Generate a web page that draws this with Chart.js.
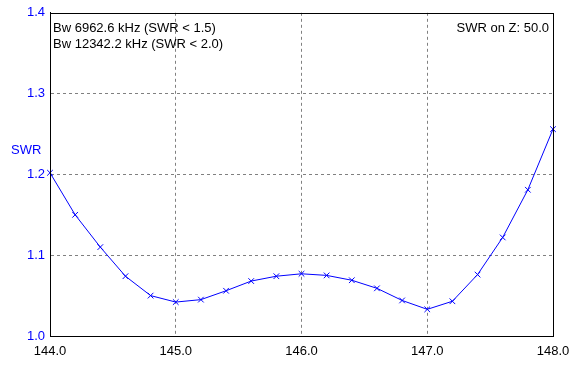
<!DOCTYPE html>
<html>
<head>
<meta charset="utf-8">
<script src="https://cdn.jsdelivr.net/npm/chart.js@4"></script>
<style>
html,body{margin:0;padding:0;background:#fff;}
#wrap{width:584px;height:365px;}
</style>
</head>
<body>
<div id="wrap"><canvas id="c" width="584" height="365"></canvas></div>
<script>
const freqs = [144.0,144.2,144.4,144.6,144.8,145.0,145.2,145.4,145.6,145.8,146.0,146.2,146.4,146.6,146.8,147.0,147.2,147.4,147.6,147.8,148.0];
const swr   = [1.202,1.150,1.110,1.074,1.050,1.042,1.045,1.056,1.068,1.074,1.077,1.075,1.069,1.059,1.044,1.033,1.043,1.076,1.122,1.181,1.256];
const xTicks = [144.0,145.0,146.0,147.0,148.0];
const yTicks = [1.0,1.1,1.2,1.3,1.4];
const infoLeft = ["Bw 6962.6 kHz (SWR < 1.5)", "Bw 12342.2 kHz (SWR < 2.0)"];
const infoRight = "SWR on Z: 50.0";
const yTitle = "SWR";

const FONT = "'Liberation Sans', Arial, sans-serif";

const textPlugin = {
  id: 'texts',
  afterDraw(chart) {
    const ctx = chart.ctx, a = chart.chartArea;
    ctx.save();
    ctx.strokeStyle = '#000';
    ctx.lineWidth = 1;
    ctx.setLineDash([]);
    ctx.strokeRect(Math.round(a.left)+0.5, Math.round(a.top)+0.5, Math.round(a.right-a.left), Math.round(a.bottom-a.top));
    ctx.font = '13px ' + FONT;
    ctx.fillStyle = '#000';
    ctx.textBaseline = 'middle';
    ctx.textAlign = 'left';
    ctx.fillText(infoLeft[0], a.left + 3, a.top + 16);
    ctx.fillText(infoLeft[1], a.left + 3, a.top + 32);
    ctx.textAlign = 'right';
    ctx.fillText(infoRight, a.right - 4, a.top + 16);
    ctx.fillStyle = '#0000ff';
    ctx.textAlign = 'left';
    ctx.fillText(yTitle, 11, 150);
    ctx.restore();
  }
};

new Chart(document.getElementById('c'), {
  type: 'scatter',
  data: {
    datasets: [{
      data: freqs.map((f,i)=>({x:f,y:swr[i]})),
      showLine: true,
      borderColor: '#0000ff',
      borderWidth: 1,
      tension: 0,
      pointStyle: 'crossRot',
      pointRadius: 4,
      pointBorderColor: '#0000ff',
      pointBorderWidth: 1,
      clip: false
    }]
  },
  options: {
    responsive: false,
    animation: false,
    devicePixelRatio: 1,
    layout: { padding: { left: 0, right: 31, top: 12, bottom: 0 } },
    plugins: { legend: { display: false }, tooltip: { enabled: false } },
    scales: {
      x: {
        type: 'linear', min: 144, max: 148,
        afterBuildTicks(s){ s.ticks = xTicks.map(v=>({value:v})); },
        afterFit(s){ s.height = 29; },
        ticks: { color: '#000', font: { family: FONT, size: 13 }, padding: 8, maxRotation: 0,
          callback: v => v.toFixed(1) },
        grid: { drawTicks: false, color: c => (c.index===0 || c.index===xTicks.length-1) ? 'rgba(0,0,0,0)' : '#808080',
          lineWidth: 1 },
        border: { display: true, color: '#000', dash: [3,3], width: 1 }
      },
      y: {
        type: 'linear', min: 1.0, max: 1.4,
        afterBuildTicks(s){ s.ticks = yTicks.map(v=>({value:v})); },
        afterFit(s){ s.width = 50; },
        ticks: { color: '#0000ff', font: { family: FONT, size: 13 }, padding: 5,
          callback: v => v.toFixed(1) },
        grid: { drawTicks: false, color: c => (c.index===0 || c.index===yTicks.length-1) ? 'rgba(0,0,0,0)' : '#808080',
          lineWidth: 1 },
        border: { display: true, color: '#000', dash: [3,3], width: 1 }
      }
    }
  },
  plugins: [textPlugin]
});
</script>
</body>
</html>
